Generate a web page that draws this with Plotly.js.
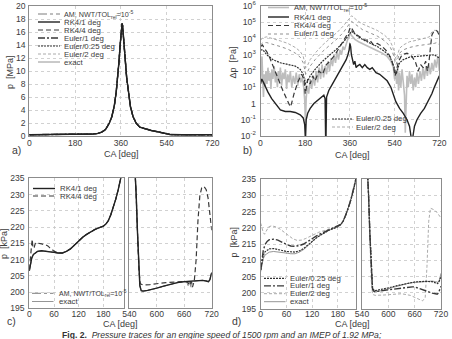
<!DOCTYPE html>
<html>
<head>
<meta charset="utf-8">
<script src="https://cdn.plot.ly/plotly-3.0.1.min.js"></script>
<style>
html, body { margin: 0; padding: 0; background: #fff; }
#chart { width: 452px; height: 339px; }
</style>
</head>
<body>
<div id="chart"></div>
<script>
// ---------- a) cylinder pressure over the full cycle [MPa] ----------
const caA = [0, 60, 120, 180, 220, 250, 270, 285, 300, 315, 325, 335, 342, 348, 353, 357, 360, 363, 365, 367, 370, 374, 378, 383, 390, 398, 408, 420, 435, 455, 480, 505, 525, 540, 555, 600, 660, 720];
const pA  = [0.2, 0.2, 0.2, 0.22, 0.26, 0.3, 0.4, 0.6, 1.0, 2.0, 3.0, 4.8, 6.8, 9.0, 11.5, 13.8, 15.5, 16.8, 17.3, 17.0, 15.8, 13.6, 11.5, 9.0, 6.5, 4.5, 3.0, 2.0, 1.35, 1.1, 0.85, 0.65, 0.45, 0.3, 0.22, 0.2, 0.2, 0.2];

// ---------- b) pressure error against the exact solution [Pa] ----------
const caAm = [0, 3, 6, 9, 12, 15, 18, 22, 26, 30, 34, 38, 42, 46, 50, 55, 60, 64, 68, 72, 76, 80, 85, 90, 95, 100, 105, 110, 115, 120, 126, 132, 138, 144, 150, 156, 162, 168, 174, 178, 181, 184, 188, 194, 200, 206, 212, 218, 224, 230, 236, 242, 248, 254, 260, 266, 272, 278, 284, 290, 296, 302, 308, 314, 320, 326, 332, 338, 344, 350, 356, 361, 366, 372, 380, 395, 410, 430, 450, 470, 490, 510, 525, 535, 540, 544, 548, 552, 556, 560, 565, 570, 575, 580, 583, 586, 590, 595, 600, 605, 610, 615, 620, 625, 630, 636, 642, 648, 654, 660, 666, 672, 678, 684, 690, 696, 702, 708, 714, 718, 720];
const dpAm = [16, 200, 790, 32, 2.5, 63, 10, 100, 16, 160, 25, 79, 7.9, 126, 32, 200, 20, 79, 10, 100, 25, 160, 12.6, 79, 32, 126, 7.9, 63, 20, 100, 10, 50, 16, 79, 12.6, 63, 20, 40, 10, 1.6, 0.063, 2, 12.6, 4, 32, 7.9, 50, 12.6, 100, 20, 160, 32, 250, 40, 200, 63, 400, 100, 630, 200, 1000, 320, 1580, 500, 2000, 1000, 3200, 2000, 5000, 7900, 12600, 22400, 15800, 12600, 8900, 6300, 5000, 3550, 2500, 1780, 1260, 790, 400, 160, 32, 100, 16, 160, 6.3, 79, 10, 126, 20, 3.2, 0.016, 4, 50, 10, 100, 16, 63, 6.3, 40, 10, 79, 16, 100, 25, 160, 32, 200, 50, 250, 63, 320, 100, 500, 160, 790, 250, 100];

const caRk41 = [0, 5, 12, 20, 30, 45, 60, 80, 100, 120, 140, 160, 172, 178, 181, 184, 190, 200, 215, 230, 245, 255, 260, 263, 266, 275, 290, 305, 320, 335, 345, 352, 357, 360, 363, 366, 370, 375, 380, 385, 390, 400, 410, 420, 430, 440, 450, 465, 480, 495, 510, 525, 535, 545, 560, 575, 590, 600, 606, 610, 614, 620, 630, 645, 660, 675, 690, 700, 710, 720];
const dpRk41 = [16, 32, 20, 10, 5, 2, 1, 0.4, 0.32, 0.32, 0.28, 0.2, 0.13, 0.05, 0.005, 0.1, 0.25, 0.5, 1, 1.6, 2.5, 3.2, 2, 0.001, 2.5, 6.3, 16, 40, 100, 250, 500, 1000, 2000, 5000, 3200, 1000, 500, 250, 400, 160, 200, 250, 160, 250, 160, 125, 160, 80, 63, 40, 25, 10, 4, 1.3, 0.5, 0.25, 0.1, 0.04, 0.01, 0.001, 0.01, 0.04, 0.1, 0.25, 0.5, 1.3, 4, 10, 25, 50];

const caRk44 = [0, 8, 15, 25, 35, 45, 60, 75, 90, 105, 115, 120, 125, 135, 150, 165, 175, 180, 184, 190, 200, 210, 220, 235, 250, 265, 280, 300, 320, 340, 355, 362, 368, 380, 400, 420, 440, 455, 470, 490, 510, 525, 535, 542, 548, 556, 570, 590, 610, 625, 635, 645, 655, 665, 672, 678, 684, 690, 698, 706, 712, 716, 720];
const dpRk44 = [3200, 4000, 2500, 1580, 790, 320, 79, 20, 6.3, 2, 0.79, 0.63, 1, 4, 20, 63, 32, 4, 7.9, 32, 16, 50, 25, 100, 63, 250, 400, 1000, 3200, 10000, 25000, 50000, 40000, 20000, 12600, 7900, 7900, 4000, 5000, 3200, 1580, 630, 200, 50, 126, 400, 1000, 1260, 790, 320, 100, 250, 160, 400, 100, 320, 2500, 15800, 28200, 31600, 28200, 20000, 15800];

const caEuler = [0, 10, 25, 50, 80, 110, 140, 160, 172, 178, 182, 188, 200, 220, 250, 280, 310, 335, 350, 360, 367, 375, 390, 410, 440, 470, 500, 520, 532, 540, 546, 552, 560, 575, 600, 630, 660, 680, 690, 700, 710, 720];
const dpEuler2 = [7900, 11200, 12600, 10000, 7100, 5000, 2800, 1600, 790, 320, 160, 200, 500, 1260, 4000, 10000, 25000, 63000, 126000, 200000, 251000, 200000, 126000, 79000, 50000, 31600, 15800, 7900, 3200, 1000, 500, 1000, 2500, 4000, 6300, 7900, 10000, 12600, 25000, 31600, 31600, 25000];
const dpEuler1 = [4000, 5600, 5600, 4500, 3200, 2200, 1260, 710, 320, 126, 63, 79, 200, 500, 1580, 4000, 10000, 25000, 56000, 89000, 112000, 89000, 56000, 35500, 22400, 14100, 7100, 3550, 1410, 500, 250, 500, 1260, 2000, 2800, 3550, 4000, 4500, 4700, 5000, 5600, 4000];
const dpEuler025 = [2000, 2000, 1000, 500, 320, 250, 200, 126, 63, 25, 16, 20, 50, 126, 400, 1000, 2500, 6300, 12600, 22400, 28200, 22400, 14100, 8900, 5600, 3200, 1580, 790, 320, 100, 63, 126, 320, 500, 710, 790, 890, 1000, 1000, 1000, 790, 630];

// ---------- c), d) low-pressure part of the cycle [kPa] ----------
const caLeft = [0, 3, 6, 10, 15, 20, 30, 40, 50, 60, 70, 80, 90, 100, 110, 120, 130, 140, 150, 160, 170, 180, 186, 192, 198, 204, 210, 216, 222, 228];
const pExactLeft = [206.5, 208.8, 210.5, 211.6, 212.2, 212.5, 212.7, 212.6, 212.4, 212.2, 212.0, 212.0, 212.5, 213.3, 214.5, 215.8, 216.9, 217.8, 218.6, 219.3, 219.8, 220.3, 220.9, 222.0, 223.8, 226.0, 228.6, 231.5, 234.8, 238.5];

const caRk44Left = [0, 3, 5, 7, 9, 12, 15, 20, 30, 40, 45, 50, 55, 60, 70, 80, 90, 100, 110, 120, 130, 140, 150, 160, 170, 180, 186, 192, 198, 204, 210, 216, 222, 228];
const pRk44Left = [207, 210.5, 212.8, 216.2, 213.5, 213.8, 215.2, 215.0, 214.8, 214.5, 214.2, 213.6, 213.2, 212.6, 212.1, 212.0, 212.5, 213.3, 214.5, 215.8, 216.9, 217.8, 218.6, 219.3, 219.8, 220.3, 220.9, 222.0, 223.8, 226.0, 228.6, 231.5, 234.8, 238.5];

const caRight = [548, 552, 555, 558, 561, 563, 566, 570, 580, 590, 600, 615, 630, 645, 660, 675, 690, 700, 708, 713, 716, 718, 720];
const pExactRight = [250, 240, 230, 218, 207, 202, 200.4, 200.3, 200.5, 200.8, 201.2, 201.8, 202.4, 202.9, 203.2, 203.3, 203.5, 203.6, 203.4, 203.2, 203.8, 204.8, 206];

const caAmRight = [548, 552, 555, 558, 561, 563, 566, 570, 580, 590, 600, 615, 630, 645, 660, 665, 669, 672, 675, 678, 690, 700, 708, 713, 716, 718, 720];
const pAmRight = [250, 240, 230, 218, 207, 202, 200.4, 200.3, 200.5, 200.8, 201.2, 201.8, 202.4, 202.9, 203.2, 203.3, 201.8, 203.4, 201.3, 203.3, 203.5, 203.6, 203.4, 203.2, 203.8, 204.8, 206];

const caRk44Right = [548, 552, 555, 558, 561, 564, 570, 585, 600, 620, 640, 660, 668, 672, 675, 678, 682, 686, 690, 694, 698, 703, 708, 712, 716, 720];
const pRk44Right = [250, 240, 230, 218, 207, 202.5, 202.2, 202.3, 202.6, 202.9, 203.1, 203.2, 203.0, 202.0, 203.3, 201.5, 203.5, 210, 222, 229.5, 232.0, 232.5, 231.5, 229, 224, 219];

const caEulerLeft = [0, 3, 6, 10, 15, 20, 30, 40, 50, 60, 70, 80, 90, 100, 110, 120, 130, 140, 150, 160, 170, 180, 186, 192, 198, 204, 210, 216, 222, 228];
const pEuler025Left = [207, 209.5, 211.5, 212.6, 213.2, 213.5, 213.6, 213.4, 213.0, 212.7, 212.5, 212.5, 212.9, 213.6, 214.7, 215.9, 216.9, 217.8, 218.6, 219.3, 219.8, 220.3, 220.9, 222.0, 223.8, 226.0, 228.6, 231.5, 234.8, 238.5];
const pEuler1Left = [207, 210.5, 213.0, 214.8, 215.8, 216.3, 216.5, 216.2, 215.5, 214.9, 214.4, 214.3, 214.5, 215.0, 215.8, 216.7, 217.5, 218.2, 218.8, 219.4, 219.9, 220.4, 221.0, 222.0, 223.8, 226.0, 228.6, 231.5, 234.8, 238.5];

const caEuler2Left = [0, 3, 6, 9, 13, 18, 25, 35, 45, 55, 65, 75, 85, 95, 105, 115, 125, 135, 145, 155, 165, 175, 182, 188, 194, 200, 206, 212, 218, 224, 230];
const pEuler2Left = [221.4, 220.0, 218.5, 218.0, 219.0, 220.2, 220.6, 220.3, 219.6, 218.6, 217.5, 216.6, 216.1, 216.2, 216.7, 217.4, 218.0, 218.6, 219.0, 219.5, 219.9, 220.2, 220.5, 221.1, 222.6, 224.6, 227.0, 229.8, 233.0, 236.6, 240.5];

const caEulerRight = [548, 552, 555, 558, 561, 564, 568, 580, 600, 620, 640, 655, 660, 670, 680, 685, 700, 710, 712, 715, 716, 720];
const pEuler025Right = [250, 240, 230, 218, 207, 201.5, 200.6, 200.9, 201.5, 202.2, 202.8, 203.2, 203.3, 203.4, 203.5, 203.5, 203.4, 203.0, 202.8, 203.2, 203.5, 205.0];
const pEuler1Right = [250, 240, 230, 218, 207, 201.0, 200.4, 200.5, 200.9, 201.3, 201.7, 201.8, 201.8, 201.3, 200.8, 200.5, 199.9, 199.6, 199.6, 200.2, 200.5, 202.0];

const caEuler2Right = [548, 552, 555, 558, 561, 564, 570, 590, 610, 630, 650, 665, 678, 684, 688, 692, 696, 705, 712, 720];
const pEuler2Right = [250, 240, 228, 215, 204, 199.5, 199.2, 199.3, 199.6, 199.7, 199.2, 198.3, 197.5, 198.5, 208, 222, 226, 225.5, 224.5, 223];

// ---------- y-axis labels of the error plot ----------
const logTickVals = [0.01, 0.1, 1, 10, 100, 1000, 10000, 100000, 1000000];
const logTickText = ['10<sup>-2</sup>', '10<sup>-1</sup>', '1', '10<sup>1</sup>', '10<sup>2</sup>', '10<sup>3</sup>', '10<sup>4</sup>', '10<sup>5</sup>', '10<sup>6</sup>'];

// ---------- figure geometry (pixels of a 452 x 339 page) ----------
const W = 452, H = 339;
const fx = x => x / W;
const fy = y => 1 - y / H;

const FONT = 'Liberation Sans, Arial, Helvetica, sans-serif';
const TXT = '#3c3c3c';

// line styles
const S = {
  amThin:   {color: '#6e6e6e', width: 0.9, dash: 'dashdot'},
  amWide:   {color: '#bdbdbd', width: 1.6, dash: 'solid'},
  rk41:     {color: '#222', width: 1.4, dash: 'solid'},
  rk44:     {color: '#383838', width: 1.2, dash: '5px,3px'},
  eu1:      {color: '#383838', width: 1.4, dash: '7px,2px,2px,2px'},
  eu1Dot:   {color: '#909090', width: 1.0, dash: 'dot'},
  eu025:    {color: '#303030', width: 1.2, dash: '2px,1px'},
  eu2:      {color: '#a0a0a0', width: 0.9, dash: '3px,2px'},
  exact:    {color: '#7a7a7a', width: 0.8, dash: 'solid'}
};

function tr(x, y, xa, ya, line) {
  return {x: x, y: y, xaxis: xa, yaxis: ya, type: 'scatter', mode: 'lines',
          line: Object.assign({shape: 'linear'}, line), showlegend: false, hoverinfo: 'skip'};
}

const data = [
  // a)
  tr(caA, pA, 'x', 'y', S.exact),
  tr(caA, pA, 'x', 'y', S.eu2),
  tr(caA, pA, 'x', 'y', S.amThin),
  tr(caA, pA, 'x', 'y', S.eu025),
  tr(caA, pA, 'x', 'y', S.eu1),
  tr(caA, pA, 'x', 'y', S.rk44),
  tr(caA, pA, 'x', 'y', S.rk41),
  // b)
  tr(caAm, dpAm, 'x2', 'y2', S.amWide),
  tr(caEuler, dpEuler2, 'x2', 'y2', S.eu2),
  tr(caEuler, dpEuler1, 'x2', 'y2', S.eu1Dot),
  tr(caEuler, dpEuler025, 'x2', 'y2', S.eu025),
  tr(caRk44, dpRk44, 'x2', 'y2', S.rk44),
  tr(caRk41, dpRk41, 'x2', 'y2', S.rk41),
  // c) left
  tr(caLeft, pExactLeft, 'x3', 'y3', S.exact),
  tr(caLeft, pExactLeft, 'x3', 'y3', S.amThin),
  tr(caRk44Left, pRk44Left, 'x3', 'y3', S.rk44),
  tr(caLeft, pExactLeft, 'x3', 'y3', S.rk41),
  // c) right
  tr(caRight, pExactRight, 'x4', 'y4', S.exact),
  tr(caAmRight, pAmRight, 'x4', 'y4', S.amThin),
  tr(caRk44Right, pRk44Right, 'x4', 'y4', S.rk44),
  tr(caRight, pExactRight, 'x4', 'y4', S.rk41),
  // d) left
  tr(caLeft, pExactLeft, 'x5', 'y5', S.exact),
  tr(caEuler2Left, pEuler2Left, 'x5', 'y5', S.eu2),
  tr(caEulerLeft, pEuler025Left, 'x5', 'y5', S.eu025),
  tr(caEulerLeft, pEuler1Left, 'x5', 'y5', S.eu1),
  // d) right
  tr(caRight, pExactRight, 'x6', 'y6', S.exact),
  tr(caEuler2Right, pEuler2Right, 'x6', 'y6', S.eu2),
  tr(caEulerRight, pEuler025Right, 'x6', 'y6', S.eu025),
  tr(caEulerRight, pEuler1Right, 'x6', 'y6', S.eu1)
];

function ax(extra) {
  return Object.assign({
    showline: true, mirror: true, linecolor: '#8c8c8c', linewidth: 1,
    showgrid: true, gridcolor: '#c6c6c6', griddash: 'dot', gridwidth: 0.8,
    zeroline: false, ticks: '', fixedrange: true,
    tickfont: {family: FONT, size: 8.6, color: TXT}
  }, extra);
}

const yC = [fy(308.3), fy(178.3)];
const yD = [fy(309), fy(179)];

const layout = {
  width: W, height: H,
  margin: {l: 0, r: 0, t: 0, b: 0},
  paper_bgcolor: '#fff', plot_bgcolor: '#fff',
  showlegend: false,
  xaxis:  ax({domain: [fx(29.3), fx(212.3)], anchor: 'y', range: [0, 720], tickmode: 'array', tickvals: [0, 180, 360, 540, 720], ticklabelstandoff: -1}),
  yaxis:  ax({domain: [fy(136), fy(6)], anchor: 'x', range: [0, 20], dtick: 2, tick0: 0, ticklabelstandoff: 1}),
  xaxis2: ax({domain: [fx(260.5), fx(439.3)], anchor: 'y2', range: [0, 720], tickmode: 'array', tickvals: [0, 180, 360, 540, 720], ticklabelstandoff: -1}),
  yaxis2: ax({domain: [fy(136), fy(6)], anchor: 'x2', type: 'log', range: [-2, 6], tickmode: 'array', tickvals: logTickVals, ticktext: logTickText, ticklabelstandoff: 2}),
  xaxis3: ax({domain: [fx(29.3), fx(124)], anchor: 'y3', range: [0, 230], tickmode: 'array', tickvals: [0, 60, 120, 180], ticklabelstandoff: -3}),
  yaxis3: ax({domain: yC, anchor: 'x3', range: [195, 235], dtick: 5, tick0: 195, ticklabelstandoff: 2}),
  xaxis4: ax({domain: [fx(129.3), fx(211.7)], anchor: 'y4', range: [540, 720], tickmode: 'array', tickvals: [540, 600, 660, 720], ticklabelstandoff: -3}),
  yaxis4: ax({domain: yC, anchor: 'x4', range: [195, 235], dtick: 5, tick0: 195, showticklabels: false}),
  xaxis5: ax({domain: [fx(260.7), fx(356)], anchor: 'y5', range: [0, 222], tickmode: 'array', tickvals: [0, 60, 120, 180], ticklabelstandoff: -3}),
  yaxis5: ax({domain: yD, anchor: 'x5', range: [195, 235], dtick: 5, tick0: 195, ticklabelstandoff: 2}),
  xaxis6: ax({domain: [fx(362), fx(441)], anchor: 'y6', range: [540, 720], tickmode: 'array', tickvals: [540, 600, 660, 720], ticklabelstandoff: -3}),
  yaxis6: ax({domain: yD, anchor: 'x6', range: [195, 235], dtick: 5, tick0: 195, showticklabels: false}),
  shapes: [],
  annotations: []
};

// text helper (positions in page pixels)
function label(text, x, y, opts) {
  layout.annotations.push(Object.assign({
    text: text, x: fx(x), y: fy(y), xref: 'paper', yref: 'paper',
    xanchor: 'center', yanchor: 'middle', showarrow: false,
    font: {family: FONT, size: 9, color: TXT}, borderpad: 0
  }, opts || {}));
}

// legend block: line samples + entry names
function legendBlock(items, x0, x1, xt) {
  items.forEach(it => {
    layout.shapes.push({type: 'line', xref: 'paper', yref: 'paper',
      x0: fx(x0), x1: fx(x1), y0: fy(it.y), y1: fy(it.y), line: it.line});
    label(it.name, xt, it.y, {xanchor: 'left', font: {family: FONT, size: it.size || 7.8, color: TXT}});
  });
}

const AM_NAME = 'AM, NWT/TOL<sub>rel</sub>=10<sup>-5</sup>';

legendBlock([
  {y: 14, name: AM_NAME, line: S.amThin, size: 7.2},
  {y: 22, name: 'RK4/1 deg', line: S.rk41},
  {y: 30, name: 'RK4/4 deg', line: S.rk44},
  {y: 38, name: 'Euler/1 deg', line: S.eu1},
  {y: 46, name: 'Euler/0.25 deg', line: S.eu025},
  {y: 54, name: 'Euler/2 deg', line: S.eu2},
  {y: 62, name: 'exact', line: S.exact}
], 38, 60, 63);

legendBlock([
  {y: 7.5, name: AM_NAME, line: S.amWide, size: 7.6},
  {y: 17, name: 'RK4/1 deg', line: S.rk41},
  {y: 25.5, name: 'RK4/4 deg', line: S.rk44},
  {y: 34, name: 'Euler/1 deg', line: S.eu1Dot}
], 268, 289, 293);

legendBlock([
  {y: 119, name: 'Euler/0.25 deg', line: S.eu025},
  {y: 127, name: 'Euler/2 deg', line: S.eu2}
], 332, 353, 355);

legendBlock([
  {y: 188.5, name: 'RK4/1 deg', line: S.rk41},
  {y: 196, name: 'RK4/4 deg', line: S.rk44}
], 33, 55, 58.5);

legendBlock([
  {y: 293.3, name: AM_NAME, line: S.amThin, size: 7},
  {y: 301.5, name: 'exact', line: S.exact}
], 32, 53.5, 57.5);

legendBlock([
  {y: 278.3, name: 'Euler/0.25 deg', line: S.eu025},
  {y: 285.9, name: 'Euler/1 deg', line: S.eu1},
  {y: 293.7, name: 'Euler/2 deg', line: S.eu2},
  {y: 301.7, name: 'exact', line: S.exact}
], 264, 285.5, 288.7);

// axis titles
label('CA [deg]', 121, 154.5);
label('CA [deg]', 352, 155);
label('CA [deg]', 120, 323.5);
label('CA [deg]', 352, 323.5);
label('p  [MPa]', 10, 72, {textangle: -90});
label('Δp  [Pa]', 232.5, 63, {textangle: -90});
label('p  [kPa]', 3.5, 243.5, {textangle: -90});
label('p  [kPa]', 233.5, 242, {textangle: -90});

// panel letters
const letterFont = {family: FONT, size: 10.5, color: TXT};
label('a)', 16, 150, {font: letterFont});
label('b)', 247.5, 150, {font: letterFont});
label('c)', 11.5, 320.5, {font: letterFont});
label('d)', 236, 320.5, {font: letterFont});

// figure caption
label('<b>Fig. 2.</b>  <i>Pressure traces for an engine speed of 1500 rpm and an IMEP of 1.92 MPa;</i>', 222, 335,
      {font: {family: FONT, size: 8.6, color: '#333'}});

Plotly.newPlot('chart', data, layout, {staticPlot: true, displayModeBar: false});
</script>
</body>
</html>
